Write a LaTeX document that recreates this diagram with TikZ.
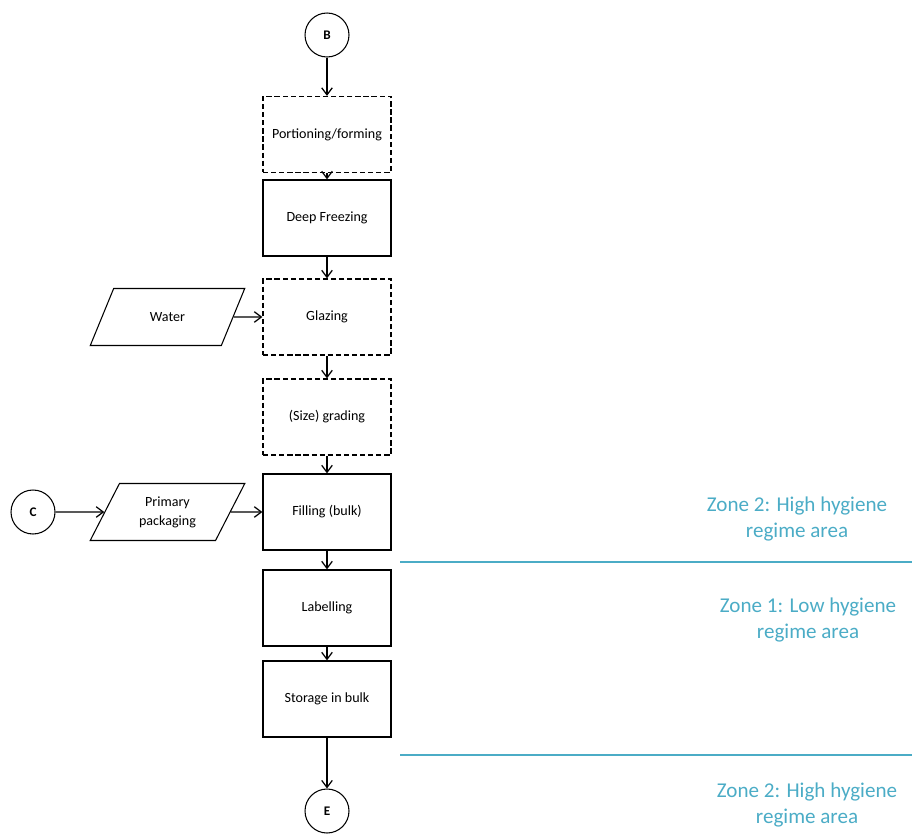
\documentclass[tikz,border=0pt]{standalone}
\usepackage{fontspec}
\setmainfont{Carlito}
\usetikzlibrary{arrows.meta,shapes.geometric}
\definecolor{zoneblue}{RGB}{75,172,198}

\begin{document}
\begin{tikzpicture}[x=0.02cm,y=-0.02cm,>={Straight Barb[length=4pt,width=6pt]},
  boxfont/.style={font=\fontsize{8}{10.8}\selectfont},
  stepbox/.style={draw,line width=0.75pt,minimum width=2.56cm,minimum height=1.52cm,
                  inner sep=1pt,boxfont},
  optbox/.style={stepbox,dash pattern=on 3pt off 1.6pt},
  connector/.style={draw,circle,line width=0.6pt,minimum size=0.88cm,inner sep=0pt,
                    font=\fontsize{7.5}{9}\selectfont\bfseries},
  inputbox/.style={draw,line width=0.6pt,trapezium,trapezium left angle=64,
                   trapezium right angle=116,trapezium stretches=true,
                   minimum width=3.1cm,minimum height=1.14cm,align=center,boxfont},
  flow/.style={->,line width=0.7pt},
  zonetext/.style={text=zoneblue,align=center,font=\fontsize{12}{14.8}\selectfont},
  zoneline/.style={zoneblue,line width=0.9pt}]

\useasboundingbox (0,0) rectangle (912,835);

%% ---------------- main column ----------------
\node[connector] (b) at (327,35) {B};
\node[optbox] (portion) at (327,134.5) {Portioning/forming};
\node[stepbox] (freeze) at (327,218) {Deep Freezing};
\node[optbox] (glaze) at (327,317) {Glazing};
\node[optbox] (grade) at (327,417) {(Size) grading};
\node[stepbox] (fill) at (327,512) {Filling (bulk)};
\node[stepbox] (label) at (327,608) {Labelling};
\node[stepbox] (store) at (327,699) {Storage in bulk};
\node[connector] (e) at (327,811) {E};

%% ---------------- inputs from the left ----------------
\node[inputbox] (water) at (167.5,317) {Water};
\node[inputbox] (pack) at (167.5,512) {Primary\\packaging};
\node[connector] (c) at (33,512) {C};

%% ---------------- flow ----------------
\draw[flow] (b) -- (portion);
\draw[flow] (portion) -- (freeze);
\draw[flow] (freeze) -- (glaze);
\draw[flow] (glaze) -- (grade);
\draw[flow] (grade) -- (fill);
\draw[flow] (fill) -- (label);
\draw[flow] (label) -- (store);
\draw[flow] (store) -- (e);
\draw[flow] (water.east) -- (glaze.west);
\draw[flow] (c) -- (pack.west);
\draw[flow] (pack.east) -- (fill.west);

%% ---------------- hygiene zones ----------------
\coordinate (zonea) at (400,562);
\coordinate (zoneb) at (400,755);
\draw[zoneline] (zonea) -- (zonea -| 912,0);
\draw[zoneline] (zoneb) -- (zoneb -| 912,0);
\node[zonetext] (zonetop) at (797,519) {Zone 2: High hygiene\\regime area};
\node[zonetext] (zonemid) at (808,620) {Zone 1: Low hygiene\\regime area};
\node[zonetext] (zonelow) at (807,805) {Zone 2: High hygiene\\regime area};

\end{tikzpicture}
\end{document}
